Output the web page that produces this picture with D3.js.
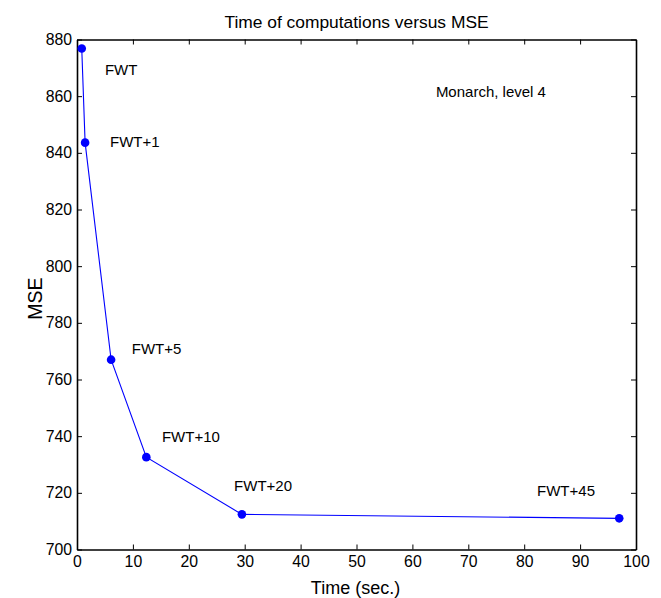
<!DOCTYPE html>
<html>
<head>
<meta charset="utf-8">
<script src="https://cdn.jsdelivr.net/npm/d3@7"></script>
<style>
  body { margin: 0; background: #fff; }
  svg text { font-family: "Liberation Sans", Arial, sans-serif; fill: #000; }
</style>
</head>
<body>
<div id="chart"></div>
<script>
// Data
var times = [0.85, 1.45, 6.1, 12.4, 29.5, 97.0];
var mseValues = [876.8, 843.6, 767.0, 732.6, 712.4, 711.0];

// Point labels and where they sit (data coordinates)
var labelTexts = ["FWT", "FWT+1", "FWT+5", "FWT+10", "FWT+20", "FWT+45"];
var labelX = [5.0, 5.9, 9.8, 15.2, 28.1, 82.3];
var labelY = [869.2, 844.0, 770.8, 739.7, 722.4, 720.7];

var noteText = "Monarch, level 4";
var noteX = 64.2;
var noteY = 861.4;

var xTicks = [0, 10, 20, 30, 40, 50, 60, 70, 80, 90, 100];
var yTicks = [700, 720, 740, 760, 780, 800, 820, 840, 860, 880];

// Svg dimensions
var svgWidth = 661;
var svgHeight = 598;

var margin = { top: 39.5, right: 25, bottom: 48.5, left: 77 };
var chartWidth = svgWidth - margin.left - margin.right;
var chartHeight = svgHeight - margin.top - margin.bottom;

var svg = d3.select("#chart")
    .append("svg")
    .attr("width", svgWidth)
    .attr("height", svgHeight);

var chartGroup = svg.append("g")
    .attr("transform", `translate(${margin.left}, ${margin.top})`);

// Scales
var xScale = d3.scaleLinear().domain([0, 100]).range([0, chartWidth]);
var yScale = d3.scaleLinear().domain([700, 880]).range([chartHeight, 0]);

// Axes (inward ticks, MATLAB style)
var bottomAxis = d3.axisBottom(xScale).tickValues(xTicks).tickSizeInner(-5).tickSizeOuter(0).tickPadding(6);
var leftAxis = d3.axisLeft(yScale).tickValues(yTicks).tickSizeInner(-5).tickSizeOuter(0).tickPadding(5);
var topAxis = d3.axisTop(xScale).tickValues(xTicks).tickSizeInner(-5).tickSizeOuter(0).tickFormat("");
var rightAxis = d3.axisRight(yScale).tickValues(yTicks).tickSizeInner(-5).tickSizeOuter(0).tickFormat("");

function styleAxis(g) {
    g.select(".domain").attr("stroke", "#000").attr("stroke-width", 1.6);
    g.selectAll(".tick line").attr("stroke", "#000").attr("stroke-width", 1);
    g.selectAll(".tick text").attr("font-size", "15.8px").attr("fill", "#000")
        .attr("font-family", "'Liberation Sans', Arial, sans-serif");
}

chartGroup.append("g")
    .attr("transform", `translate(0, ${chartHeight})`)
    .call(bottomAxis)
    .call(styleAxis);

chartGroup.append("g")
    .call(leftAxis)
    .call(styleAxis);

chartGroup.append("g")
    .call(topAxis)
    .call(styleAxis);

chartGroup.append("g")
    .attr("transform", `translate(${chartWidth}, 0)`)
    .call(rightAxis)
    .call(styleAxis);

// Line
var points = times.map(function(t, i) { return [t, mseValues[i]]; });

var line = d3.line()
    .x(d => xScale(d[0]))
    .y(d => yScale(d[1]));

chartGroup.append("path")
    .datum(points)
    .attr("fill", "none")
    .attr("stroke", "#0000ff")
    .attr("stroke-width", 1.1)
    .attr("d", line);

chartGroup.selectAll("circle")
    .data(points)
    .enter()
    .append("circle")
    .attr("cx", d => xScale(d[0]))
    .attr("cy", d => yScale(d[1]))
    .attr("r", 4.3)
    .attr("fill", "#0000ff");

// Point labels
chartGroup.selectAll(".ptLabel")
    .data(labelTexts)
    .enter()
    .append("text")
    .classed("ptLabel", true)
    .attr("x", (d, i) => xScale(labelX[i]))
    .attr("y", (d, i) => yScale(labelY[i]))
    .attr("dy", "0.35em")
    .attr("font-size", "15px")
    .text(d => d);

chartGroup.append("text")
    .attr("x", xScale(noteX))
    .attr("y", yScale(noteY))
    .attr("dy", "0.35em")
    .attr("font-size", "15px")
    .text(noteText);

// Title and axis labels
chartGroup.append("text")
    .attr("x", chartWidth / 2)
    .attr("y", -12)
    .attr("text-anchor", "middle")
    .attr("font-size", "17.4px")
    .text("Time of computations versus MSE");

chartGroup.append("text")
    .attr("x", chartWidth / 2 - 1)
    .attr("y", chartHeight + 44)
    .attr("text-anchor", "middle")
    .attr("font-size", "18px")
    .text("Time (sec.)");

chartGroup.append("text")
    .attr("transform", `translate(${-35}, ${259}) rotate(-90)`)
    .attr("text-anchor", "middle")
    .attr("font-size", "19.5px")
    .text("MSE");
</script>
</body>
</html>
